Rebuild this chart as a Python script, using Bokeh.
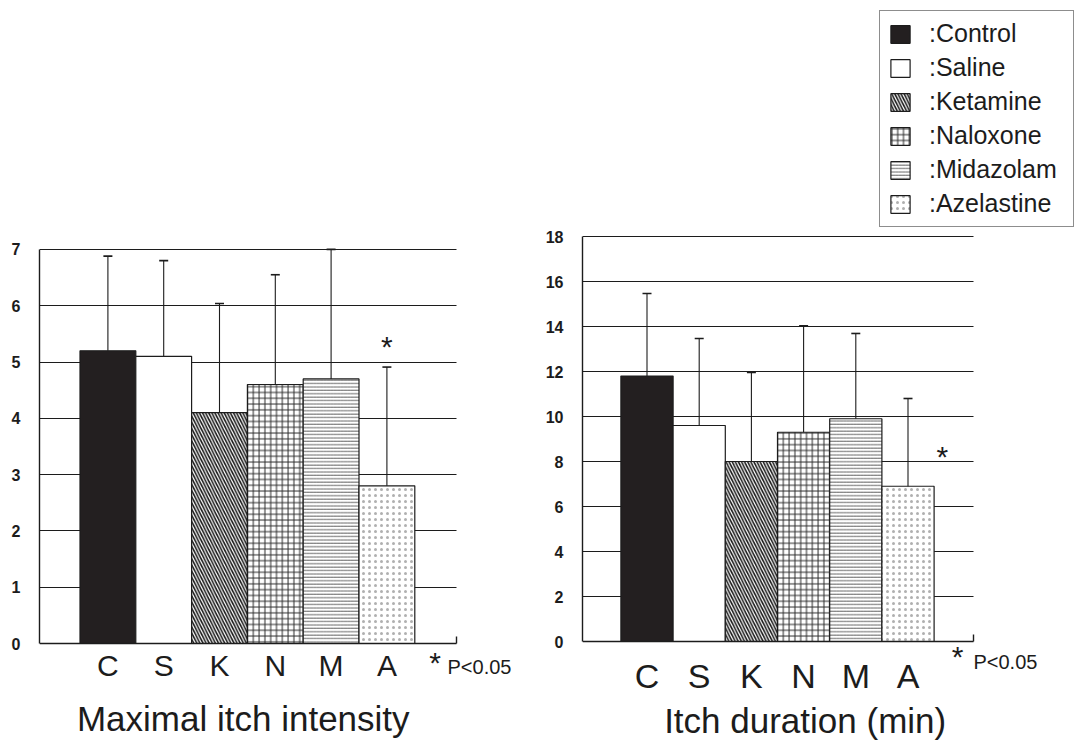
from bokeh.plotting import figure
from bokeh.models import (FixedTicker, Whisker, TeeHead, ColumnDataSource, Label,
                          Legend, LegendItem, Range1d)
from bokeh.layouts import row
from bokeh.embed import file_html
from bokeh.resources import INLINE

# ---------------- data ----------------
groups = ["Control", "Saline", "Ketamine", "Naloxone", "Midazolam", "Azelastine"]
letters = ["C", "S", "K", "N", "M", "A"]

intensity_mean = [5.2, 5.1, 4.1, 4.6, 4.7, 2.8]
intensity_sd = [1.68, 1.70, 1.94, 1.95, 2.30, 2.11]
intensity_ticks = [0, 1, 2, 3, 4, 5, 6, 7]

duration_mean = [11.8, 9.6, 8.0, 9.3, 9.9, 6.9]
duration_sd = [3.67, 3.87, 3.96, 4.73, 3.79, 3.90]
duration_ticks = [0, 2, 4, 6, 8, 10, 12, 14, 16, 18]

# ---------------- styles ----------------
FONT = "Liberation Sans"
INK = "#1c1c1c"
fill_colors = ["#231f20", "white", "white", "white", "white", "white"]
hatch_patterns = ["blank", "blank", "left_diagonal_line", "cross", "horizontal_line", "dot"]
hatch_scales = [6, 6, 6.2, 5.8, 3.4, 6.0]
hatch_weights = [1, 1, 1.6, 1.0, 0.8, 0.7]
hatch_colors = [INK, INK, INK, "#2a2a2a", "#3a3a3a", "#b0b0b0"]
FIG_H = 742


def make_chart(means, sds, ticks, title, fig_w, border_l, px_x, pad_px, px_y,
               zero_from_top, letter_size, xstd, title_pos, star_pos, note_star, note_text):
    n = len(means)
    x = list(range(n))
    upper = [m + s for m, s in zip(means, sds)]
    src = ColumnDataSource(dict(
        x=x, top=means, upper=upper, label=letters, group=groups,
        fill=fill_colors, hp=hatch_patterns, hs=hatch_scales,
        hw=hatch_weights, hc=hatch_colors))

    frame_w = fig_w - border_l
    x_start = -0.5 - pad_px / px_x
    x_stop = x_start + frame_w / px_x
    axis_end = n - 0.5 + 0.75
    y_stop = zero_from_top / px_y
    y_start = -(FIG_H - zero_from_top) / px_y

    p = figure(width=fig_w, height=FIG_H, title=None,
               x_range=Range1d(x_start, x_stop), y_range=Range1d(y_start, y_stop),
               output_backend="svg", toolbar_location=None,
               min_border_left=border_l, min_border_right=0,
               min_border_top=0, min_border_bottom=0)
    p.outline_line_color = None
    p.background_fill_color = "white"
    p.border_fill_color = "white"

    # grid
    p.xgrid.visible = False
    g = p.ygrid[0]
    g.ticker = FixedTicker(ticks=ticks[1:])
    g.grid_line_color = INK
    g.grid_line_width = 1.2
    if "cross_bounds" in g.properties():
        g.cross_bounds = (x_start, axis_end)
    else:
        g.visible = False
        p.segment(x0=[x_start] * (len(ticks) - 1), x1=[axis_end] * (len(ticks) - 1),
                  y0=ticks[1:], y1=ticks[1:], line_color=INK, line_width=1.2,
                  level="underlay")

    # y axis
    ya = p.yaxis[0]
    ya.ticker = FixedTicker(ticks=ticks)
    ya.bounds = (ticks[0], ticks[-1])
    ya.major_tick_in = 0
    ya.major_tick_out = 0
    ya.minor_tick_in = 0
    ya.minor_tick_out = 0
    ya.axis_line_color = INK
    ya.axis_line_width = 1.4
    ya.major_label_text_font = FONT
    ya.major_label_text_font_style = "bold"
    ya.major_label_text_font_size = "16px"
    ya.major_label_text_color = INK
    ya.major_label_standoff = 19

    # x axis with category letters, fixed at y = 0
    xa = p.xaxis[0]
    xa.fixed_location = 0
    xa.bounds = (x_start, axis_end)
    xa.ticker = FixedTicker(ticks=x, minor_ticks=[axis_end])
    xa.major_label_overrides = {i: letters[i] for i in x}
    xa.major_tick_in = 0
    xa.major_tick_out = 0
    xa.minor_tick_in = 7
    xa.minor_tick_out = 0
    xa.minor_tick_line_color = INK
    xa.minor_tick_line_width = 1.4
    xa.axis_line_color = INK
    xa.axis_line_width = 1.4
    xa.major_label_text_font = FONT
    xa.major_label_text_font_size = letter_size
    xa.major_label_text_color = INK
    xa.major_label_standoff = xstd

    bars = p.vbar(x="x", top="top", bottom=0, width=1.0, source=src,
                  fill_color="fill", hatch_pattern="hp", hatch_scale="hs",
                  hatch_weight="hw", hatch_color="hc",
                  line_color=INK, line_width=1.2)

    p.add_layout(Whisker(source=src, base="x", lower="top", upper="upper",
                         dimension="height", line_color=INK, line_width=1.1,
                         upper_head=TeeHead(size=9, line_color=INK, line_width=1.6),
                         lower_head=None, level="annotation"))

    # significance marker in plot
    p.add_layout(Label(x=star_pos[0], y=star_pos[1], text="*", text_font=FONT,
                       text_font_size="30px", text_align="center",
                       text_baseline="middle", text_color=INK))
    # "* P<0.05" note
    p.add_layout(Label(x=note_star[0], y=note_star[1], text="*", text_font=FONT,
                       text_font_size="30px", text_align="center",
                       text_baseline="middle", text_color=INK))
    p.add_layout(Label(x=note_text[0], y=note_text[1], text="P<0.05", text_font=FONT,
                       text_font_size="20px", text_align="left",
                       text_baseline="alphabetic", text_color=INK))
    # chart title below
    p.add_layout(Label(x=title_pos[0], y=title_pos[1], text=title, text_font=FONT,
                       text_font_size="35px", text_align="center",
                       text_baseline="alphabetic", text_color=INK))
    return p, bars


left, _ = make_chart(intensity_mean, intensity_sd, intensity_ticks,
                     "Maximal itch intensity", fig_w=530, border_l=39,
                     px_x=55.8, pad_px=40.5, px_y=56.3, zero_from_top=643,
                     letter_size="30px", xstd=5,
                     title_pos=(2.426, -1.332), star_pos=(5.0, 5.28),
                     note_star=(5.864, -0.34), note_text=(6.086, -0.41))

right, rbars = make_chart(duration_mean, duration_sd, duration_ticks,
                          "Itch duration (min)", fig_w=545, border_l=52,
                          px_x=52.2, pad_px=38.4, px_y=22.5, zero_from_top=641,
                          letter_size="34px", xstd=15,
                          title_pos=(3.03, -3.51), star_pos=(5.66, 8.22),
                          note_star=(5.948, -0.667), note_text=(6.254, -0.89))

items = [LegendItem(label=":" + g, renderers=[rbars], index=i) for i, g in enumerate(groups)]
legend = Legend(items=items, location=(297, 515), margin=0, padding=8,
                spacing=5, glyph_width=24, glyph_height=22, label_height=29,
                label_width=136, label_standoff=17,
                label_text_font=FONT, label_text_font_size="25px",
                label_text_color=INK, border_line_color=INK, border_line_width=1.2,
                background_fill_color="white", background_fill_alpha=1.0)
right.add_layout(legend)

layout = row(left, right, spacing=0)
open("out.html", "w").write(file_html(layout, INLINE))
